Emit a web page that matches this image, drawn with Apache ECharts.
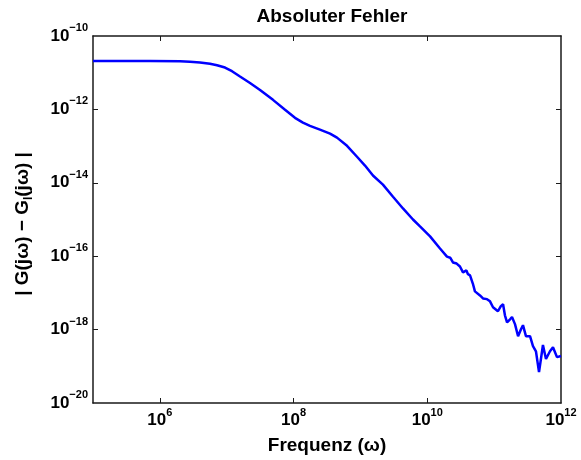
<!DOCTYPE html>
<html>
<head>
<meta charset="utf-8">
<script src="https://cdn.jsdelivr.net/npm/echarts@6/dist/echarts.min.js"></script>
<style>
  html, body { margin: 0; padding: 0; background: #fff; }
  #chart { width: 581px; height: 460px; }
</style>
</head>
<body>
<div id="chart"></div>
<script>
// Frequency ω (rad/s)
const omega = [
  1.00e5, 2.54e5, 7.13e5, 2.00e6, 2.82e6, 3.98e6, 5.62e6, 7.16e6, 9.42e6,
  1.20e7, 1.58e7, 2.23e7, 3.15e7, 4.92e7, 7.45e7,
  1.05e8, 1.38e8, 1.76e8, 2.48e8, 3.51e8, 4.46e8, 6.30e8, 8.89e8,
  1.17e9, 1.54e9, 2.17e9, 3.07e9, 4.33e9, 6.11e9, 7.78e9,
  1.10e10, 1.55e10, 1.97e10, 2.20e10, 2.42e10, 2.75e10, 3.08e10, 3.42e10, 3.85e10, 4.06e10, 4.36e10,
  4.80e10, 5.16e10, 6.14e10, 6.81e10, 7.82e10, 8.67e10, 9.62e10,
  1.14e11, 1.26e11, 1.36e11, 1.45e11, 1.56e11, 1.73e11, 1.85e11, 2.05e11,
  2.28e11, 2.52e11, 2.70e11, 2.99e11, 3.44e11, 3.81e11, 4.22e11, 4.69e11,
  5.01e11, 5.37e11, 5.96e11, 6.84e11, 7.59e11, 8.71e11, 1.00e12
];
// Absolute error |G(jω) − G_l(jω)|
const absError = [
  2.09e-11, 2.09e-11, 2.09e-11, 2.04e-11, 1.98e-11, 1.91e-11, 1.76e-11, 1.60e-11, 1.38e-11,
  1.10e-11, 7.90e-12, 5.25e-12, 3.39e-12, 1.82e-12, 9.77e-13,
  5.89e-13, 4.37e-13, 3.55e-13, 2.82e-13, 2.19e-13, 1.70e-13, 1.02e-13, 5.13e-14,
  2.95e-14, 1.58e-14, 8.91e-15, 4.17e-15, 2.00e-15, 1.00e-15, 6.46e-16,
  3.47e-16, 1.62e-16, 9.77e-17, 9.10e-17, 6.76e-17, 6.30e-17, 5.25e-17, 3.63e-17, 4.10e-17, 3.24e-17, 3.00e-17,
  1.80e-17, 1.10e-17, 8.51e-18, 7.08e-18, 6.76e-18, 5.89e-18, 4.07e-18,
  3.16e-18, 4.37e-18, 4.90e-18, 2.45e-18, 1.58e-18, 1.91e-18, 2.19e-18, 1.41e-18,
  6.61e-19, 1.02e-18, 1.32e-18, 6.61e-19, 6.61e-19, 3.55e-19, 2.57e-19, 6.92e-20,
  1.58e-19, 3.80e-19, 1.58e-19, 2.57e-19, 3.31e-19, 1.78e-19, 1.91e-19
];
// Axis ranges and tick values
const xMin = 1e5, xMax = 1e12;
const yMin = 1e-20, yMax = 1e-10;
const xTickLabels = [1e6, 1e8, 1e10, 1e12];
const xTicks = [1e6, 1e8, 1e10];
const yTickLabels = [1e-20, 1e-18, 1e-16, 1e-14, 1e-12, 1e-10];
const yTicks = [1e-18, 1e-16, 1e-14, 1e-12];

const titleText = 'Absoluter Fehler';
const xName = 'Frequenz (ω)';

const FONT = '"Liberation Sans", Arial, Helvetica, sans-serif';
const AX = '#1a1a1a';

function powLabel(v) {
  const e = Math.round(Math.log10(v));
  return '{b|10}{e|' + (e < 0 ? '\u2212' : '') + Math.abs(e) + '}';
}
const richPow = {
  b: { fontSize: 17, fontWeight: 'bold', fontFamily: FONT, color: '#000', lineHeight: 17, verticalAlign: 'bottom' },
  e: { fontSize: 11, fontWeight: 'bold', fontFamily: FONT, color: '#000', lineHeight: 11, verticalAlign: 'bottom', padding: [0, 0, 11, 0] }
};

const chart = echarts.init(document.getElementById('chart'), null, { renderer: 'canvas' });

const data = omega.map((x, i) => [x, absError[i]]);

chart.setOption({
  backgroundColor: '#fff',
  animation: false,
  title: {
    text: titleText,
    left: 327,
    textAlign: 'center',
    top: 2,
    textStyle: { fontSize: 19, fontWeight: 'bold', fontFamily: FONT, color: '#000' }
  },
  grid: { left: 93, right: 20, top: 36, bottom: 56, containLabel: false },
  xAxis: [
    {
      type: 'log', logBase: 10, min: xMin, max: xMax,
      position: 'bottom',
      name: xName,
      nameLocation: 'middle',
      nameGap: 33,
      nameTextStyle: { fontSize: 19, fontWeight: 'bold', fontFamily: FONT, color: '#000' },
      axisLine: { show: true, lineStyle: { color: AX, width: 1.5 } },
      axisTick: { show: true, inside: true, length: 5, customValues: xTicks, lineStyle: { color: AX, width: 1 } },
      axisLabel: { show: true, margin: 9, customValues: xTickLabels, formatter: powLabel, rich: richPow },
      splitLine: { show: false },
      minorTick: { show: false }
    },
    {
      type: 'log', logBase: 10, min: xMin, max: xMax,
      position: 'top',
      axisLine: { show: true, lineStyle: { color: AX, width: 1.5 } },
      axisTick: { show: true, inside: true, length: 5, customValues: xTicks, lineStyle: { color: AX, width: 1 } },
      axisLabel: { show: false },
      splitLine: { show: false }
    }
  ],
  yAxis: [
    {
      type: 'log', logBase: 10, min: yMin, max: yMax,
      position: 'left',
      name: '{t|| G(jω) \u2212 G}{s|l}{t|(jω) |}',
      nameLocation: 'middle',
      nameRotate: 90,
      nameGap: 61,
      nameTextStyle: {
        fontSize: 19, fontWeight: 'bold', fontFamily: FONT, color: '#000',
        padding: [0, 9, 0, 0],
        rich: {
          t: { fontSize: 19, fontWeight: 'bold', fontFamily: FONT, color: '#000', lineHeight: 19, verticalAlign: 'top' },
          s: { fontSize: 12, fontWeight: 'bold', fontFamily: FONT, color: '#000', lineHeight: 12, verticalAlign: 'top', padding: [10, 0, 0, 0] }
        }
      },
      axisLine: { show: true, lineStyle: { color: AX, width: 1.5 } },
      axisTick: { show: true, inside: true, length: 5, customValues: yTicks, lineStyle: { color: AX, width: 1 } },
      axisLabel: { show: true, margin: 5, customValues: yTickLabels, formatter: powLabel, rich: richPow },
      splitLine: { show: false },
      minorTick: { show: false }
    },
    {
      type: 'log', logBase: 10, min: yMin, max: yMax,
      position: 'right',
      axisLine: { show: true, lineStyle: { color: AX, width: 1.5 } },
      axisTick: { show: true, inside: true, length: 5, customValues: yTicks, lineStyle: { color: AX, width: 1 } },
      axisLabel: { show: false },
      splitLine: { show: false }
    }
  ],
  series: [
    {
      type: 'line',
      xAxisIndex: 0,
      yAxisIndex: 0,
      data: data,
      showSymbol: false,
      smooth: false,
      lineStyle: { color: '#0000ff', width: 2.5 },
      clip: true
    }
  ]
});
</script>
</body>
</html>
